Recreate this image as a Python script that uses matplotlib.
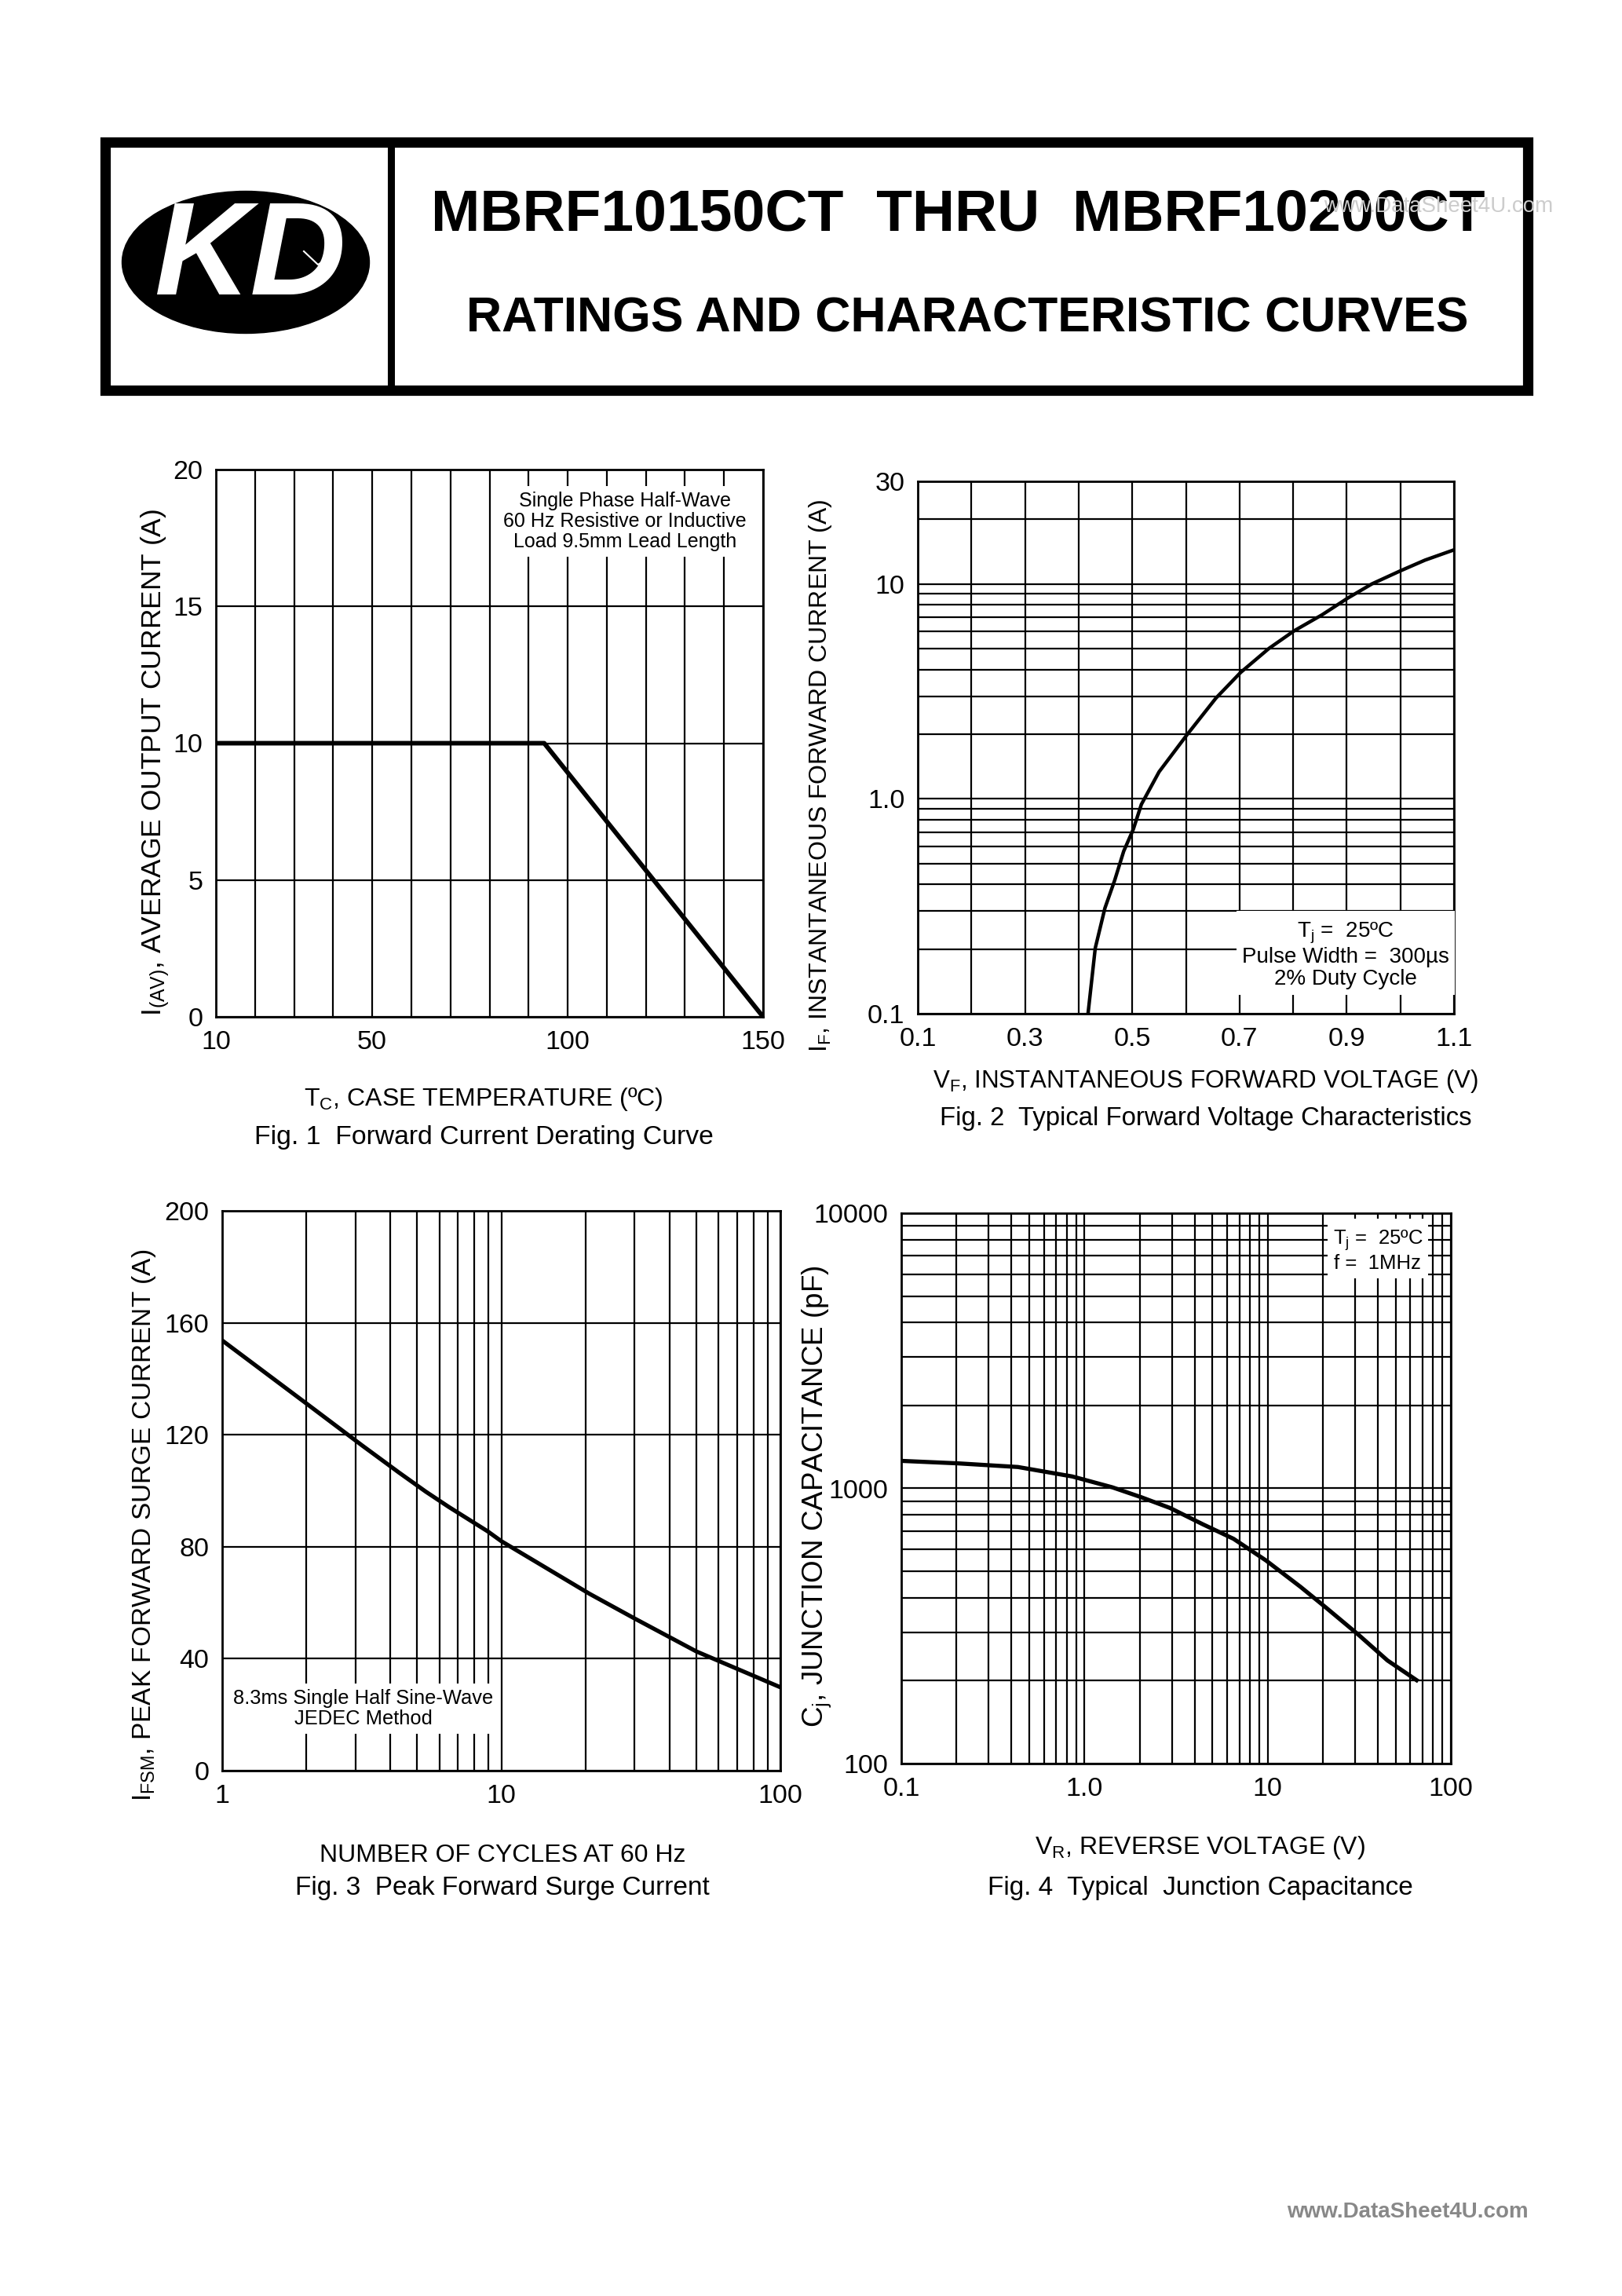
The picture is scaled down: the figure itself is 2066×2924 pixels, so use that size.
import numpy as np
import matplotlib
matplotlib.use("Agg")
from matplotlib import pyplot as plt
from matplotlib.patches import Ellipse, Rectangle

plt.rcParams['font.family'] = ['Liberation Sans', 'DejaVu Sans']
plt.rcParams['mathtext.fontset'] = 'custom'
plt.rcParams['mathtext.rm'] = 'Liberation Sans'
plt.rcParams['mathtext.it'] = 'Liberation Sans'
plt.rcParams['mathtext.bf'] = 'Liberation Sans:bold'

# fig 1 - derating
tc = [10, 94, 150]
io_av = [10, 10, 0]
fig1_xticks = list(range(10, 151, 10))
fig1_xlabels = ['10', '', '', '', '50', '', '', '', '', '100', '', '', '', '', '150']
fig1_yticks = [0, 5, 10, 15, 20]

# fig 2 - forward voltage
vf = [0.4175, 0.431, 0.449, 0.467, 0.484, 0.502, 0.517, 0.55, 0.601, 0.656,
      0.702, 0.755, 0.802, 0.854, 0.902, 0.947, 1.0, 1.046, 1.1]
i_f = [0.1, 0.202, 0.31, 0.416, 0.57, 0.722, 0.942, 1.335, 1.97, 2.94,
       3.87, 5.01, 6.05, 7.18, 8.59, 10.0, 11.5, 12.9, 14.4]
fig2_xticks = [0.1, 0.2, 0.3, 0.4, 0.5, 0.6, 0.7, 0.8, 0.9, 1.0, 1.1]
fig2_xlabels = ['0.1', '', '0.3', '', '0.5', '', '0.7', '', '0.9', '', '1.1']
fig2_yticks = [0.1, 1, 10, 30]
fig2_ylabels = ['0.1', '1.0', '10', '30']

# fig 3 - surge current
cycles = [1, 2.07, 3.18, 4.3, 5.36, 6.49, 8.94, 10, 20.7, 30, 50, 100]
i_fsm = [153.7, 130.1, 116.1, 106.5, 99.7, 94.2, 85.5, 82, 63.2, 54.4, 42.6, 29.8]
fig3_xticks = [1, 10, 100]
fig3_xlabels = ['1', '10', '100']
fig3_yticks = [0, 40, 80, 120, 160, 200]

# fig 4 - junction capacitance
vr = [0.1, 0.204, 0.433, 0.858, 1.42, 2.04, 2.93, 4.42, 6.51, 9.8,
      15.1, 20.8, 31.3, 45.1, 65]
cj = [1259, 1233, 1196, 1105, 1009, 929, 849, 741, 656, 547,
      439, 369, 294, 237, 201]
fig4_xticks = [0.1, 1, 10, 100]
fig4_xlabels = ['0.1', '1.0', '10', '100']
fig4_yticks = [100, 1000, 10000]
fig4_ylabels = ['100', '1000', '10000']

W, H = 2066, 2924
fig = plt.figure(figsize=(W / 100, H / 100), dpi=100)


def box(l, t, r, b):
    return [l / W, 1 - b / H, (r - l) / W, (b - t) / H]


# header
bg = fig.add_axes([0, 0, 1, 1], zorder=-1)
bg.set_xlim(0, W)
bg.set_ylim(H, 0)
bg.axis('off')
bg.add_patch(Rectangle((134, 181), 1812, 316, fill=False, lw=9.5, ec='black'))
bg.plot([498, 498], [181, 497], color='black', lw=6.5)
bg.add_patch(Ellipse((313, 334), 315, 181, color='black'))
bg.text(318, 331, 'KD', color='white', fontsize=122, fontweight='bold',
        fontstyle='italic', ha='center', va='center')
bg.plot([387, 405, 432], [320, 337, 320], color='white', lw=1.5)
bg.text(1220, 274, 'MBRF10150CT  THRU  MBRF10200CT', fontsize=54,
        fontweight='bold', ha='center', va='center')
bg.text(1232, 406, 'RATINGS AND CHARACTERISTIC CURVES', fontsize=45,
        fontweight='bold', ha='center', va='center')
bg.text(1832, 263, 'www.DataSheet4U.com', fontsize=20, color='#cccccc',
        ha='center', va='center')
bg.text(1793, 2817, 'www.DataSheet4U.com', fontsize=20, color='#888888',
        fontweight='bold', ha='center', va='center')


def style(ax):
    ax.set_axisbelow(True)
    ax.grid(True, which='both', color='black', lw=1.6)
    ax.tick_params(which='both', length=0, labelsize=24.5, pad=12)
    for s in ax.spines.values():
        s.set_linewidth(2)


def note(ax, x, y, s, size):
    ax.text(x, y, s, fontsize=size, ha='center', va='center', zorder=5,
            linespacing=1.1, bbox=dict(facecolor='white', edgecolor='none', pad=5))


# Fig 1
ax1 = fig.add_axes(box(275, 598, 972, 1295))
ax1.plot(tc, io_av, color='black', lw=4.2, solid_capstyle='butt', zorder=4)
ax1.set_xlim(10, 150)
ax1.set_ylim(0, 20)
ax1.set_xticks(fig1_xticks)
ax1.set_xticklabels(fig1_xlabels)
ax1.set_yticks(fig1_yticks)
style(ax1)
note(ax1, 114.6, 18.1, 'Single Phase Half-Wave\n60 Hz Resistive or Inductive\nLoad 9.5mm Lead Length', 18)
fig.text(198 / W, 1 - 971 / H, r'I$_{(AV)}$, AVERAGE OUTPUT CURRENT (A)',
         rotation=90, fontsize=25.5, ha='center', va='center')
fig.text(616 / W, 1 - 1399 / H, r'T$_C$, CASE TEMPERATURE (ºC)', fontsize=23,
         ha='center', va='center')
fig.text(616 / W, 1 - 1448 / H, 'Fig. 1  Forward Current Derating Curve', fontsize=24.3,
         ha='center', va='center')

# Fig 2
ax2 = fig.add_axes(box(1169, 613, 1852, 1291))
ax2.plot(vf, i_f, color='black', lw=3.2, zorder=4)
ax2.set_yscale('log')
ax2.set_xlim(0.1, 1.1)
ax2.set_ylim(0.1, 30)
ax2.set_xticks(fig2_xticks)
ax2.set_xticklabels(fig2_xlabels)
ax2.set_yticks(fig2_yticks)
ax2.set_yticklabels(fig2_ylabels)
ax2.yaxis.set_minor_formatter(plt.NullFormatter())
style(ax2)
note(ax2, 0.898, 0.188, 'T$_j$ =  25ºC\nPulse Width =  300µs\n2% Duty Cycle', 20)
fig.text(1045 / W, 1 - 988 / H, r'I$_F$, INSTANTANEOUS FORWARD CURRENT (A)',
         rotation=90, fontsize=23, ha='center', va='center')
fig.text(1536 / W, 1 - 1377 / H, r'V$_F$, INSTANTANEOUS FORWARD VOLTAGE (V)', fontsize=22.5,
         ha='center', va='center')
fig.text(1536 / W, 1 - 1425 / H, 'Fig. 2  Typical Forward Voltage Characteristics',
         fontsize=23.7, ha='center', va='center')

# Fig 3
ax3 = fig.add_axes(box(283, 1542, 994, 2255))
ax3.plot(cycles, i_fsm, color='black', lw=3.8, zorder=4)
ax3.set_xscale('log')
ax3.set_xlim(1, 100)
ax3.set_ylim(0, 200)
ax3.set_xticks(fig3_xticks)
ax3.set_xticklabels(fig3_xlabels)
ax3.xaxis.set_minor_formatter(plt.NullFormatter())
ax3.set_yticks(fig3_yticks)
style(ax3)
note(ax3, 3.2, 22.2, '8.3ms Single Half Sine-Wave\nJEDEC Method', 18.4)
fig.text(184 / W, 1 - 1942 / H, r'I$_{FSM}$, PEAK FORWARD SURGE CURRENT (A)',
         rotation=90, fontsize=24, ha='center', va='center')
fig.text(640 / W, 1 - 2363 / H, 'NUMBER OF CYCLES AT 60 Hz', fontsize=23,
         ha='center', va='center')
fig.text(640 / W, 1 - 2404 / H, 'Fig. 3  Peak Forward Surge Current', fontsize=24,
         ha='center', va='center')

# Fig 4
ax4 = fig.add_axes(box(1148, 1545, 1848, 2246))
ax4.plot(vr, cj, color='black', lw=3.8, zorder=4)
ax4.set_xscale('log')
ax4.set_yscale('log')
ax4.set_xlim(0.1, 100)
ax4.set_ylim(100, 10000)
ax4.set_xticks(fig4_xticks)
ax4.set_xticklabels(fig4_xlabels)
ax4.set_yticks(fig4_yticks)
ax4.set_yticklabels(fig4_ylabels)
ax4.xaxis.set_minor_formatter(plt.NullFormatter())
ax4.yaxis.set_minor_formatter(plt.NullFormatter())
style(ax4)
note(ax4, 39.9, 7300, 'T$_j$ =  25ºC\nf =  1MHz', 18.5)
fig.text(1040 / W, 1 - 1906 / H, r'C$_j$, JUNCTION CAPACITANCE (pF)',
         rotation=90, fontsize=26.5, ha='center', va='center')
fig.text(1529 / W, 1 - 2353 / H, r'V$_R$, REVERSE VOLTAGE (V)', fontsize=23,
         ha='center', va='center')
fig.text(1529 / W, 1 - 2404 / H, 'Fig. 4  Typical  Junction Capacitance', fontsize=24,
         ha='center', va='center')

fig.savefig('out.png', dpi=100, facecolor='white')
